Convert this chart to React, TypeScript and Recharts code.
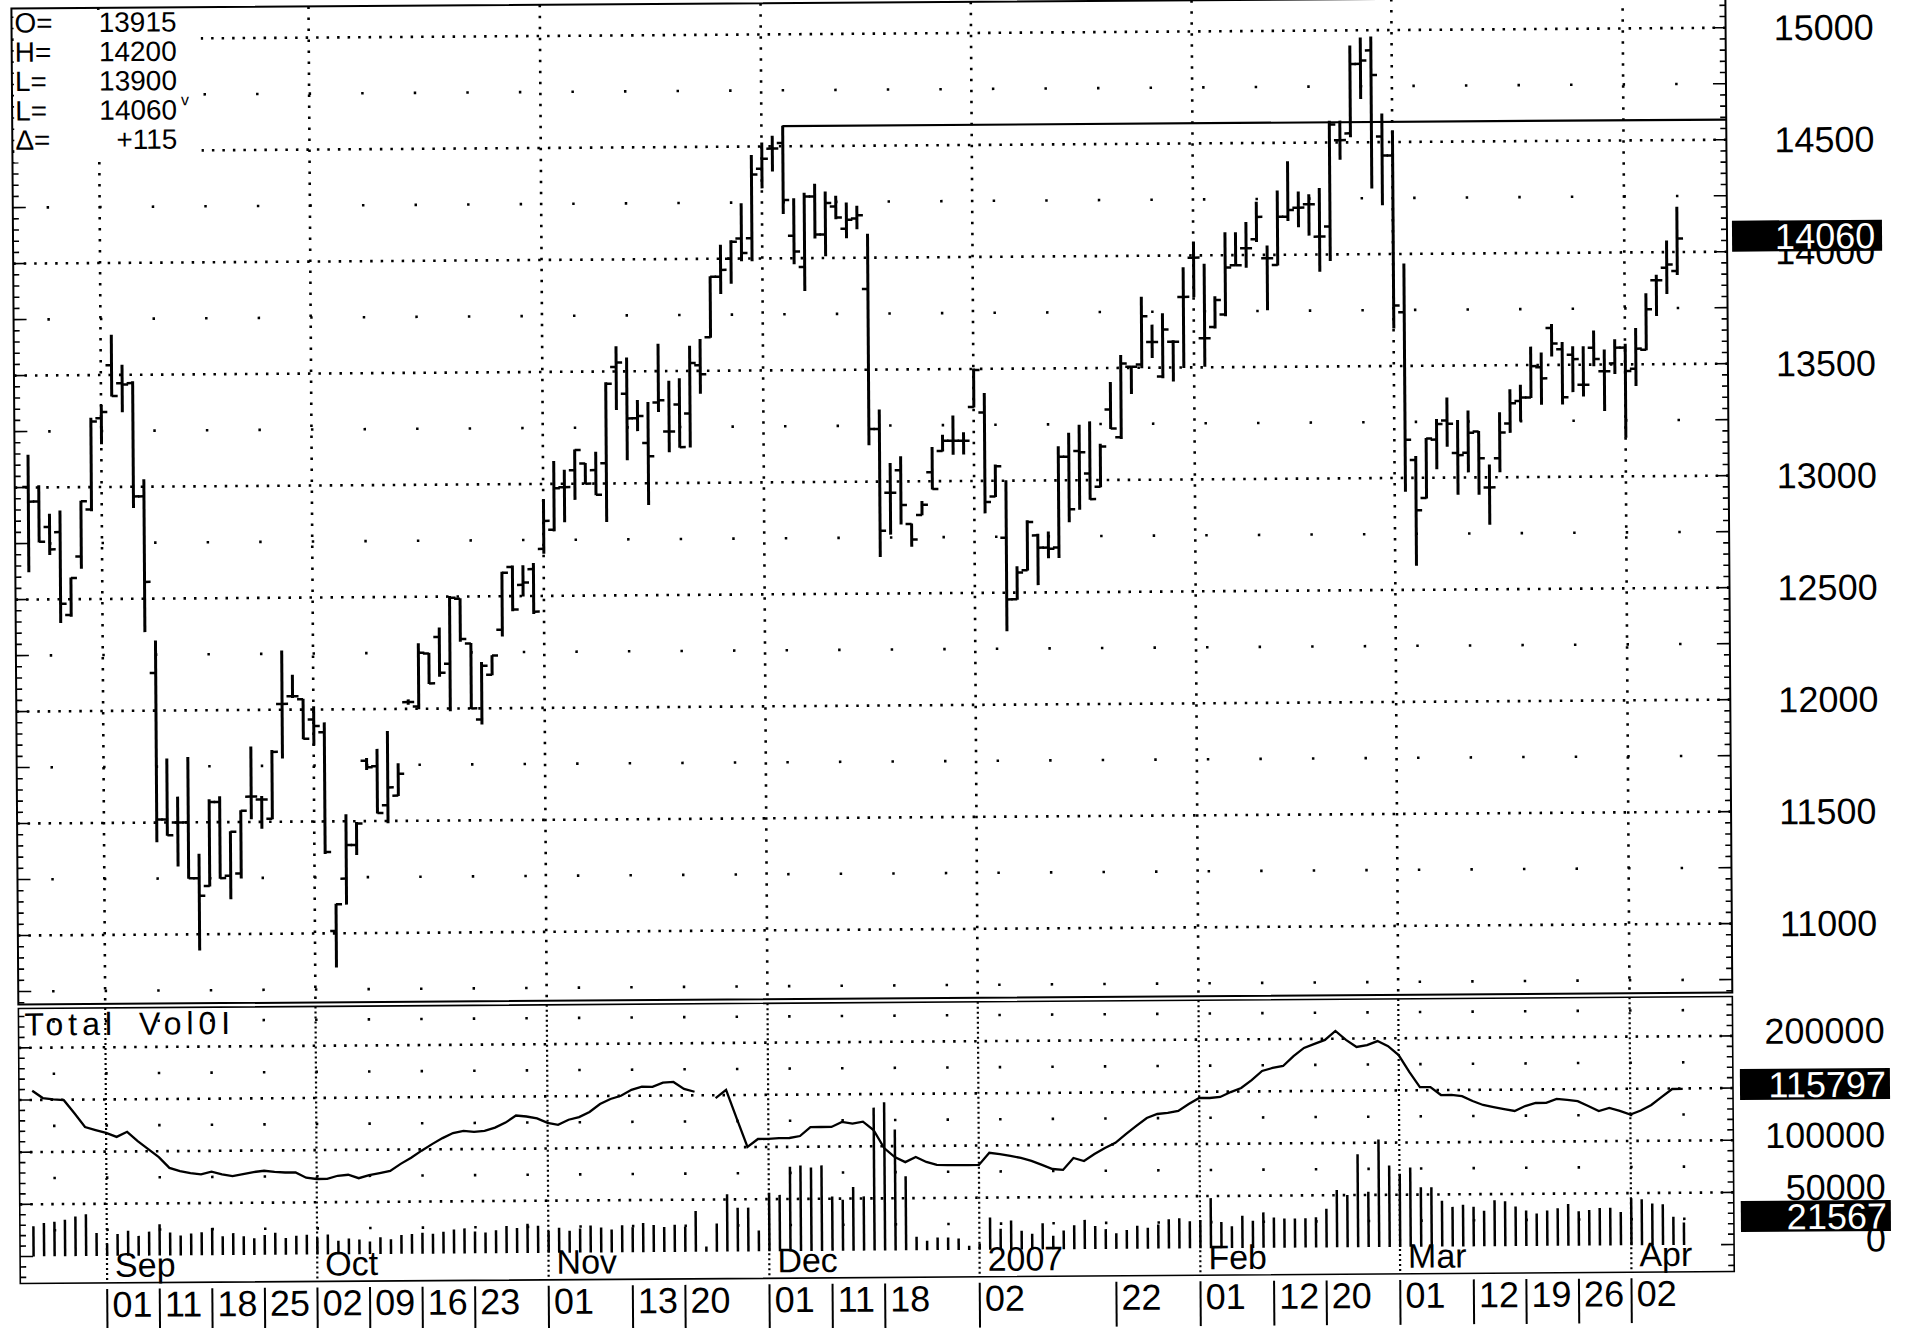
import React from 'react';
import { ComposedChart, Bar, Line, XAxis, YAxis, ReferenceLine } from 'recharts';

const FONT = "'Liberation Sans', Arial, Helvetica, sans-serif";
const W = 1905;
const H = 1328;
const PLOT_LEFT = 16;
const PLOT_RIGHT = 1730;
const AXIS_W = W - PLOT_RIGHT;
const PRICE_H = 998;
const VOL_TOP = 998;
const VOL_H = 330;

// ---------- categories (trading days) ----------
const dates = [
  '2006-08-23','2006-08-24','2006-08-25','2006-08-28','2006-08-29','2006-08-30','2006-08-31',
  '2006-09-01','2006-09-05','2006-09-06','2006-09-07','2006-09-08','2006-09-11','2006-09-12','2006-09-13','2006-09-14','2006-09-15',
  '2006-09-18','2006-09-19','2006-09-20','2006-09-21','2006-09-22','2006-09-25','2006-09-26','2006-09-27','2006-09-28','2006-09-29',
  '2006-10-02','2006-10-03','2006-10-04','2006-10-05','2006-10-06','2006-10-09','2006-10-10','2006-10-11','2006-10-12','2006-10-13',
  '2006-10-16','2006-10-17','2006-10-18','2006-10-19','2006-10-20','2006-10-23','2006-10-24','2006-10-25','2006-10-26','2006-10-27',
  '2006-10-30','2006-10-31',
  '2006-11-01','2006-11-02','2006-11-03','2006-11-06','2006-11-07','2006-11-08','2006-11-09','2006-11-10','2006-11-13','2006-11-14',
  '2006-11-15','2006-11-16','2006-11-17','2006-11-20','2006-11-21','2006-11-22','2006-11-24','2006-11-27','2006-11-28','2006-11-29','2006-11-30',
  '2006-12-01','2006-12-04','2006-12-05','2006-12-06','2006-12-07','2006-12-08','2006-12-11','2006-12-12','2006-12-13','2006-12-14',
  '2006-12-15','2006-12-18','2006-12-19','2006-12-20','2006-12-21','2006-12-22','2006-12-26','2006-12-27','2006-12-28','2006-12-29',
  '2007-01-02','2007-01-03','2007-01-04','2007-01-05','2007-01-08','2007-01-09','2007-01-10','2007-01-11','2007-01-12','2007-01-16',
  '2007-01-17','2007-01-18','2007-01-19','2007-01-22','2007-01-23','2007-01-24','2007-01-25','2007-01-26','2007-01-29','2007-01-30','2007-01-31',
  '2007-02-01','2007-02-02','2007-02-05','2007-02-06','2007-02-07','2007-02-08','2007-02-09','2007-02-12','2007-02-13','2007-02-14',
  '2007-02-15','2007-02-16','2007-02-20','2007-02-21','2007-02-22','2007-02-23','2007-02-26','2007-02-27','2007-02-28',
  '2007-03-01','2007-03-02','2007-03-05','2007-03-06','2007-03-07','2007-03-08','2007-03-09','2007-03-12','2007-03-13','2007-03-14',
  '2007-03-15','2007-03-16','2007-03-19','2007-03-20','2007-03-21','2007-03-22','2007-03-23','2007-03-26','2007-03-27','2007-03-28',
  '2007-03-29','2007-03-30',
  '2007-04-02','2007-04-03','2007-04-04','2007-04-05','2007-04-09','2007-04-10',
];

// ---------- price series ----------
const openP = [
  13002,12937,12823,12800,12430,12690,12900,13307,13543,13463,13463,12957,12168,11514,11500,11500,11250,11215,11590,11260,11270,11613,11600,11514,12026,12060,12046,11955,11898,
  11010,11244,11394,11770,11745,11570,11613,12030,12010,12247,12320,12200,12490,12290,11950,12150,12350,12630,12550,12620,12710,12795,12985,13060,13090,13060,13090,13520,13400,13290,
  13180,13360,13230,13350,13310,13525,13650,13920,14000,14090,14090,14400,14490,14515,14100,13960,14275,14105,14230,14130,14175,13860,13235,12950,13050,12810,12850,13040,13135,13180,13180,
  13330,13305,12930,12745,12470,12600,12755,12700,12700,13105,13130,13030,12970,13315,13190,13505,13515,13615,13460,13615,13815,13990,13630,13680,13735,13955,14030,14070,13985,13955,14170,
  14210,14225,14080,14125,14510,14540,14850,14910,14525,14440,13740,13080,12910,13170,13255,13110,13110,13205,12955,13085,13240,13340,13355,13490,13665,13570,13545,13410,13575,13470,
  13505,13575,13480,13565,13875,13930,13915,
];
const highP = [
  13144,13008,12880,12894,12595,12937,13307,13364,13677,13543,13469,13031,12311,11784,11613,11790,11357,11600,11613,11457,11550,11835,11613,11818,12262,12154,12046,12012,11940,
  11130,11529,11494,11780,11820,11899,11755,12040,12290,12247,12360,12500,12490,12290,12205,12235,12607,12635,12635,12645,12930,13100,13060,13150,13090,13140,13450,13610,13560,13370,
  13360,13620,13455,13465,13610,13640,13920,14060,14080,14245,14460,14515,14545,14590,14265,14290,14330,14295,14275,14245,14230,14105,13320,13080,13110,12810,12910,13150,13205,13290,13215,
  13500,13390,13070,13000,12615,12820,12760,12770,13150,13210,13245,13260,13160,13435,13555,13505,13815,13690,13740,13620,13945,14060,13960,13815,14100,14100,14145,14235,14040,14285,14415,
  14280,14267,14295,14595,14595,14930,14965,14970,14625,14550,13955,13095,13175,13260,13355,13255,13297,13205,13055,13288,13390,13410,13580,13553,13680,13600,13580,13580,13650,13565,
  13610,13590,13660,13815,13897,14050,14200,
];
const lowP = [
  12624,12757,12700,12396,12424,12638,12894,13193,13406,13335,12908,12353,11414,11443,11306,11250,10930,11215,11250,11158,11250,11514,11471,11514,11784,12054,11870,11841,11357,
  10850,11130,11351,11730,11536,11492,11613,12020,12000,12113,12145,11990,12300,12000,11930,12150,12322,12435,12500,12422,12690,12790,12830,12930,13000,12950,12830,13330,13105,13235,
  12905,13320,13140,13160,13160,13400,13650,13845,13890,13990,13990,14315,14390,14200,13975,13855,14090,14010,14175,14090,14130,13165,12665,12765,12810,12710,12850,12965,13135,13120,13120,
  13330,12857,12930,12330,12470,12600,12535,12655,12655,12815,12870,12915,12970,13230,13185,13385,13500,13545,13455,13440,13500,13815,13505,13675,13730,13955,13945,14060,13755,13955,14153,
  14125,14087,13925,13973,14425,14525,14695,14295,14220,13670,12940,12610,12910,13040,13140,12925,13025,12925,12790,13025,13200,13250,13355,13325,13540,13325,13380,13360,13495,13295,
  13460,13175,13405,13565,13717,13815,13900,
];
const closeP = [
  12937,12757,12723,12480,12595,12937,13293,13335,13406,13457,12957,12575,11514,11443,11500,11250,11172,11590,11250,11457,11550,11613,11600,11812,12026,12060,11870,11926,11363,
  11130,11394,11490,11740,11536,11650,11710,12030,12250,12113,12160,12495,12310,12000,12190,12235,12605,12440,12560,12430,12835,12980,12985,13150,13000,12950,13445,13540,13290,13300,
  13120,13370,13230,13160,13535,13485,13920,13950,14075,14025,14375,14445,14490,14260,14030,14275,14105,14245,14180,14170,14190,13235,12780,12950,12895,12740,12895,12965,13180,13180,13180,
  13495,12905,13065,12470,12590,12815,12700,12695,13105,12870,13125,12915,13150,13230,13520,13505,13730,13615,13670,13615,13815,13990,13630,13800,13945,13955,14030,14170,13985,14170,14200,
  14210,14225,14080,14580,14510,14850,14865,14800,14440,13770,13170,12855,13175,13240,13240,13100,13200,13085,12955,13200,13330,13355,13495,13440,13595,13355,13525,13410,13525,13470,
  13575,13470,13570,13745,13875,13945,14060,
];

// ---------- volume / open interest ----------
const volume = [
  29000,32000,33000,35000,38000,40000,22000,
  12000,21000,24000,19000,23000,30000,22000,19000,21000,22000,26000,18000,21000,18000,16000,19000,21000,16000,18000,19000,
  16000,19000,13000,15000,14000,12000,16000,14000,18000,19000,20000,19000,21000,23000,24000,21000,20000,22000,26000,24000,28000,26000,
  21000,24000,21000,23000,26000,24000,22000,26000,24000,28000,26000,24000,26000,24000,39000,5000,27000,55000,42000,42000,20000,
  56000,54000,81000,82000,80000,82000,52000,49000,61000,52000,137000,142000,116000,71000,13000,9000,12000,12000,11000,4000,
  6000,31000,20000,28000,18000,15000,25000,13000,18000,23000,28000,22000,19000,15000,18000,22000,20000,23000,28000,29000,26000,
  27000,48000,25000,21000,31000,26000,34000,29000,28000,28000,28000,29000,37000,55000,50000,89000,53000,103000,78000,
  70000,76000,57000,57000,44000,38000,40000,38000,34000,44000,43000,38000,34000,31000,34000,36000,40000,33000,34000,36000,36000,32000,
  45000,44000,40000,39000,27000,21567,
];
const openInterest = [
  123000,117500,116500,115800,106000,95800,93500,91300,88300,92000,85000,79000,73000,65000,62500,61000,60000,62000,60000,58600,
  60000,61500,62400,61500,61000,61000,57000,56000,56000,58300,59000,56400,58600,60100,61600,66800,71300,76500,81300,85700,
  89400,90900,90200,90900,93200,96900,102100,101300,99800,96500,95000,98700,100600,104300,110200,113900,116200,120600,122900,122700,
  125700,126200,121000,118800,null,114000,120000,98700,77600,83400,83400,84000,84000,85400,92000,92000,92000,95700,94300,95700,
  89500,76000,69300,65500,69300,65500,63200,63000,63000,63000,63000,72000,71000,69500,68000,65700,62700,59600,58900,67700,
  65400,70500,75000,78700,85200,91200,97000,99900,100600,102100,107200,111600,111500,112200,115800,118800,124600,131300,133500,134900,
  142200,148200,151100,154000,160600,153900,148600,150000,152900,149100,142400,129800,118500,118500,112500,112500,111600,107900,104900,103300,
  101800,100300,103900,106100,106100,109000,108200,107300,103600,99800,102000,99800,97000,100000,104000,110000,115800,115797,
];

// ---------- axis / grid values ----------
const priceLabelTicks = [11000, 11500, 12000, 12500, 13000, 13500, 14000, 14500, 15000];
const priceHalfLevels = [10750, 11250, 11750, 12250, 12750, 13250, 13750, 14250, 14750];
const priceDomain = [10692, 15139];
const priceRulerTicks: number[] = [];
for (let v = 10700; v <= 15100; v += 50) priceRulerTicks.push(v);

const volLabelTicks = [0, 50000, 100000, 200000];
const volGridLevels = [50000, 100000, 150000, 200000];
const volHalfLevels = [25000, 75000, 125000, 175000, 225000];
const volDomain = [-25880, 237710];
const oiDomain = [-20042, 184090];
const volRulerTicks: number[] = [];
for (let v = -20000; v <= 230000; v += 10000) volRulerTicks.push(v);

const monthStarts = [
  { date: '2006-09-01', label: 'Sep' },
  { date: '2006-10-02', label: 'Oct' },
  { date: '2006-11-01', label: 'Nov' },
  { date: '2006-12-01', label: 'Dec' },
  { date: '2007-01-02', label: '2007' },
  { date: '2007-02-01', label: 'Feb' },
  { date: '2007-03-01', label: 'Mar' },
  { date: '2007-04-02', label: 'Apr' },
];
const dayLabelDates = [
  '2006-09-01','2006-09-11','2006-09-18','2006-09-25','2006-10-02','2006-10-09','2006-10-16','2006-10-23',
  '2006-11-01','2006-11-13','2006-11-20','2006-12-01','2006-12-11','2006-12-18','2007-01-02','2007-01-22',
  '2007-02-01','2007-02-12','2007-02-20','2007-03-01','2007-03-12','2007-03-19','2007-03-26','2007-04-02',
];
const resistanceFrom = '2006-12-05';
const resistanceLevel = 14590;

// ---------- tables for recharts ----------
const priceData = dates.map((date, i) => ({
  date, open: openP[i], high: highP[i], low: lowP[i], close: closeP[i], range: [lowP[i], highP[i]],
}));
const volData = dates.map((date, i) => ({ date, vol: volume[i], oi: openInterest[i] }));

const last = dates.length - 1;
const lastClose = closeP[last];
const lastVol = volume[last];
const lastOi = openInterest[last] as number;
const change = closeP[last] - closeP[last - 1];
const summary = [
  { k: 'O=', v: String(openP[last]) },
  { k: 'H=', v: String(highP[last]) },
  { k: 'L=', v: String(lowP[last]) },
  { k: 'L=', v: String(lastClose) },
  { k: '\u0394=', v: (change >= 0 ? '+' : '') + change },
];

// ---------- shapes ----------
const dotted = (dash: string, sw: number, offset = 0) => (p: any) => {
  const x1 = Math.min(p.x1, p.x2);
  const x2 = Math.max(p.x1, p.x2);
  const y1 = Math.min(p.y1, p.y2);
  const y2 = Math.max(p.y1, p.y2);
  return (
    <line x1={x1} y1={y1} x2={x2} y2={y2} stroke="#000" strokeWidth={sw}
      strokeDasharray={dash} strokeDashoffset={offset} />
  );
};

const OhlcShape = (props: any) => {
  const { x, y, width, height, payload } = props;
  if (x == null || y == null || !payload) return null;
  const cx = x + width / 2;
  const top = Math.min(y, y + height);
  const h = Math.abs(height);
  const span = payload.high - payload.low;
  const yOf = (v: number) => (span > 0 ? top + ((payload.high - v) / span) * h : top);
  const yo = yOf(payload.open);
  const yc = yOf(payload.close);
  return (
    <g>
      <line x1={cx} x2={cx} y1={top - 0.5} y2={top + h + 0.5} stroke="#000" strokeWidth={3} />
      <line x1={cx - 6} x2={cx} y1={yo} y2={yo} stroke="#000" strokeWidth={2.5} />
      <line x1={cx} x2={cx + 6} y1={yc} y2={yc} stroke="#000" strokeWidth={2.5} />
    </g>
  );
};

const VolShape = (props: any) => {
  const { x, y, width, height } = props;
  if (x == null || y == null) return null;
  const cx = x + width / 2;
  const top = Math.min(y, y + height);
  return <rect x={cx - 1.25} y={top} width={2.5} height={Math.abs(height)} fill="#000" />;
};

const BoxAt = ({ x0, cy, text, anchor }: { x0: number; cy: number; text: string; anchor: 'start' | 'end' }) => (
  <g>
    <rect x={x0} y={cy - 15.5} width={150} height={31} fill="#000" />
    {anchor === 'start' ? (
      <text x={x0 + 43} y={cy + 13} fontSize={36} fontFamily={FONT} fill="#fff">{text}</text>
    ) : (
      <text x={x0 + 146} y={cy + 13} fontSize={36} fontFamily={FONT} fill="#fff" textAnchor="end">{text}</text>
    )}
  </g>
);

const PriceTick = (props: any) => {
  const { x, y, payload } = props;
  const v = payload.value;
  if (v === lastClose && !priceRulerTicks.includes(v)) {
    return <BoxAt x0={x + 5} cy={y - 2} text={String(v)} anchor="start" />;
  }
  const len = v % 250 === 0 ? 13 : 6;
  return (
    <g>
      <line x1={x - len} x2={x} y1={y} y2={y} stroke="#000" strokeWidth={1.6} />
      <line x1={PLOT_LEFT} x2={PLOT_LEFT + len} y1={y} y2={y} stroke="#000" strokeWidth={1.6} />
      {priceLabelTicks.includes(v) && (
        <text x={x + 48} y={y + 13} fontSize={36} fontFamily={FONT} fill="#000">{v}</text>
      )}
    </g>
  );
};

const VolTick = (props: any) => {
  const { x, y, payload } = props;
  const v = payload.value;
  if (v === lastVol && !volRulerTicks.includes(v)) {
    return <BoxAt x0={x + 7} cy={y - 5.5} text={String(v)} anchor="end" />;
  }
  const len = v % 50000 === 0 ? 13 : 6;
  return (
    <g>
      <line x1={x - len} x2={x} y1={y} y2={y} stroke="#000" strokeWidth={1.6} />
      <line x1={PLOT_LEFT} x2={PLOT_LEFT + len} y1={y} y2={y} stroke="#000" strokeWidth={1.6} />
      {volLabelTicks.includes(v) && (
        <text x={x + 152} y={y + 8} fontSize={36} fontFamily={FONT} fill="#000" textAnchor="end">{v}</text>
      )}
    </g>
  );
};

const DayTick = (props: any) => {
  const { x, y, payload } = props;
  const d = String(payload.value).slice(8, 10);
  return (
    <g>
      <line x1={x} x2={x} y1={y + 6} y2={y + 51} stroke="#000" strokeWidth={2} />
      <text x={x + 5} y={y + 34} fontSize={36} fontFamily={FONT} fill="#000">{d}</text>
    </g>
  );
};

const MonthLabel = (props: any) => {
  const vb = props.viewBox || {};
  return (
    <text x={vb.x + 8} y={vb.y + vb.height - 6} fontSize={34} fontFamily={FONT} fill="#000">{props.text}</text>
  );
};

const OiBox = (props: any) => {
  const vb = props.viewBox || {};
  return <BoxAt x0={vb.x + vb.width + 7} cy={vb.y - 4} text={props.text} anchor="end" />;
};

const resistanceShape = (p: any) => {
  const x1 = Math.min(p.x1, p.x2);
  return <line x1={x1} x2={PLOT_RIGHT} y1={p.y1} y2={p.y1} stroke="#000" strokeWidth={2.2} />;
};

const PriceChart = () => (
  <ComposedChart width={W} height={PRICE_H} data={priceData}
    margin={{ top: 2, right: 0, bottom: 0, left: PLOT_LEFT }} barCategoryGap={0}>
    <XAxis dataKey="date" type="category" hide padding={{ left: 8, right: 45 }} />
    <YAxis yAxisId="p" orientation="right" type="number" width={AXIS_W} domain={priceDomain}
      allowDataOverflow ticks={[...priceRulerTicks, lastClose]} interval={0} tick={<PriceTick />}
      tickLine={false} axisLine={false} tickSize={0} tickMargin={0} />
    {priceLabelTicks.map((v) => (
      <ReferenceLine key={'pg' + v} yAxisId="p" y={v} shape={dotted('2.5 8', 2.6)} />
    ))}
    {priceHalfLevels.map((v) => (
      <ReferenceLine key={'ph' + v} yAxisId="p" y={v} shape={dotted('2.5 50.06', 2.6, 18.75)} />
    ))}
    {monthStarts.map((m) => (
      <ReferenceLine key={'pm' + m.date} yAxisId="p" x={m.date} shape={dotted('2.5 8.5', 2.6)} />
    ))}
    <Bar yAxisId="p" dataKey="range" shape={<OhlcShape />} isAnimationActive={false} />
    <ReferenceLine yAxisId="p"
      segment={[{ x: resistanceFrom, y: resistanceLevel }, { x: dates[last], y: resistanceLevel }]}
      shape={resistanceShape} />
  </ComposedChart>
);

const VolumeChart = () => (
  <ComposedChart width={W} height={VOL_H} data={volData}
    margin={{ top: 4, right: 0, bottom: 0, left: PLOT_LEFT }} barCategoryGap={0}>
    <XAxis dataKey="date" type="category" padding={{ left: 8, right: 45 }} height={51}
      ticks={dayLabelDates} interval={0} tick={<DayTick />} tickLine={false} axisLine={false}
      tickSize={0} tickMargin={0} />
    <YAxis yAxisId="v" orientation="right" type="number" width={AXIS_W} domain={volDomain}
      allowDataOverflow ticks={[...volRulerTicks, lastVol]} interval={0} tick={<VolTick />}
      tickLine={false} axisLine={false} tickSize={0} tickMargin={0} />
    <YAxis yAxisId="oi" orientation="right" type="number" hide width={0} domain={oiDomain} allowDataOverflow />
    {volGridLevels.map((v) => (
      <ReferenceLine key={'vg' + v} yAxisId="v" y={v} shape={dotted('2.5 8', 2.6)} />
    ))}
    {volHalfLevels.map((v) => (
      <ReferenceLine key={'vh' + v} yAxisId="v" y={v} shape={dotted('2.5 50.06', 2.6, 18.75)} />
    ))}
    {monthStarts.map((m) => (
      <ReferenceLine key={'vm' + m.date} yAxisId="v" x={m.date} shape={dotted('2 3', 2.2)}
        label={<MonthLabel text={m.label} />} />
    ))}
    <Bar yAxisId="v" dataKey="vol" shape={<VolShape />} isAnimationActive={false} />
    <Line yAxisId="oi" dataKey="oi" type="linear" stroke="#000" strokeWidth={2.3} dot={false}
      connectNulls={false} isAnimationActive={false} />
    <ReferenceLine yAxisId="oi" y={lastOi} stroke="none" label={<OiBox text={String(lastOi)} />} />
  </ComposedChart>
);

export default function App() {
  return (
    <div style={{ position: 'absolute', left: 0, top: 0, width: W, height: H, background: '#fff', overflow: 'hidden' }}>
      <div style={{ position: 'absolute', left: 0, top: 0, width: W, height: H,
        transform: 'rotate(-0.4deg)', transformOrigin: '952px 664px', fontFamily: FONT }}>
        <div style={{ position: 'absolute', left: 0, top: 0 }}>
          <PriceChart />
        </div>
        <div style={{ position: 'absolute', left: 0, top: VOL_TOP }}>
          <VolumeChart />
        </div>
        <svg width={W} height={H} style={{ position: 'absolute', left: 0, top: 0, pointerEvents: 'none' }}>
          <rect x={PLOT_LEFT} y={2} width={PLOT_RIGHT - PLOT_LEFT} height={996} fill="none" stroke="#000" strokeWidth={2} />
          <rect x={PLOT_LEFT} y={1002} width={PLOT_RIGHT - PLOT_LEFT} height={275} fill="none" stroke="#000" strokeWidth={1.6} />
          <rect x={18} y={4} width={187} height={152} fill="#fff" />
          {summary.map((s, i) => (
            <g key={i}>
              <text x={19} y={26 + i * 29.3} fontSize={28} fontFamily={FONT} fill="#000">{s.k}</text>
              <text x={181} y={26 + i * 29.3} fontSize={28} fontFamily={FONT} fill="#000" textAnchor="end">{s.v}</text>
            </g>
          ))}
          <text x={185} y={100} fontSize={16} fontFamily={FONT} fill="#000">v</text>
          <text x={22} y={1029} fontSize={32} fontFamily={FONT} fill="#000" letterSpacing={5} wordSpacing={8}>Total Vol0I</text>
        </svg>
      </div>
    </div>
  );
}
